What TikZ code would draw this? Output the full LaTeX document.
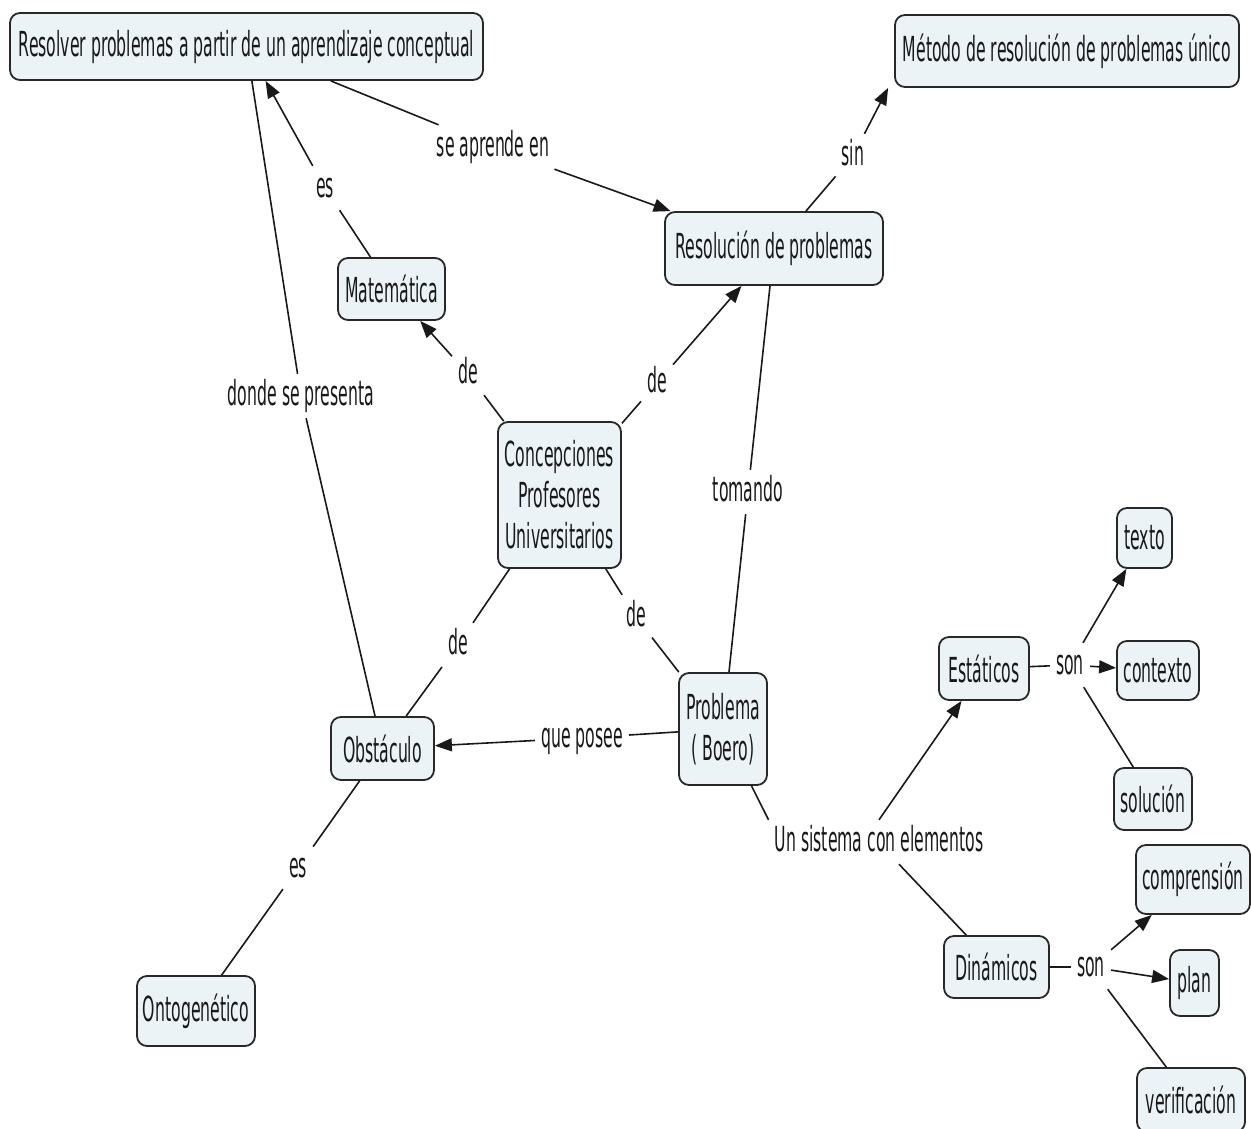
\documentclass[tikz,border=0pt]{standalone}
\usepackage{fontspec}
\setmainfont{DejaVu Sans}[FakeStretch=0.455]
\usetikzlibrary{arrows.meta}
\definecolor{boxfill}{RGB}{235,243,246}
\definecolor{boxline}{RGB}{40,40,40}
\definecolor{ink}{RGB}{25,25,25}
\begin{document}
\begin{tikzpicture}[x=1pt,y=-1pt,
  concept/.style={draw=boxline, line width=1.8pt, fill=boxfill, rounded corners=10pt,
    inner sep=0pt, align=center, text=ink, font=\fontsize{34.5}{41}\selectfont},
  phrase/.style={inner sep=6pt, text=ink, text height=25pt, text depth=7pt,
    font=\fontsize{34.5}{41}\selectfont},
  link/.style={draw=ink, line width=1.6pt},
  arr/.style={link, -{Triangle[length=17pt,width=13pt]}}
]
\fill[white] (0,0) rectangle (1251,1128);
\useasboundingbox (0,0) rectangle (1251,1128);

% concepts
\node[concept, minimum width=473, minimum height=67] (R1) at (246.5,46.5)
  {Resolver problemas a partir de un aprendizaje conceptual};
\node[concept, minimum width=344, minimum height=72] (M) at (1067,51)
  {Método de resolución de problemas único};
\node[concept, minimum width=218, minimum height=73] (RP) at (774,248.5)
  {Resolución de problemas};
\node[concept, minimum width=107, minimum height=62] (Mat) at (391.5,289) {Matemática};
\node[concept, minimum width=123, minimum height=146] (CPU) at (559.5,495)
  {Concepciones\\Profesores\\Universitarios};
\node[concept, minimum width=103, minimum height=63] (Obs) at (382.5,748.5) {Obstáculo};
\node[concept, minimum width=88, minimum height=112] (PB) at (723,729) {Problema\\( Boero)};
\node[concept, minimum width=118, minimum height=70] (Onto) at (196,1011) {Ontogenético};
\node[concept, minimum width=90, minimum height=63] (Est) at (984,668.5) {Estáticos};
\node[concept, minimum width=105, minimum height=62] (Din) at (996.5,967) {Dinámicos};
\node[concept, minimum width=55, minimum height=60] (texto) at (1144.5,538) {texto};
\node[concept, minimum width=82, minimum height=59] (contexto) at (1158,670.5) {contexto};
\node[concept, minimum width=78, minimum height=62] (sol) at (1153,799) {solución};
\node[concept, minimum width=114, minimum height=69] (comp) at (1193,879.5) {comprensión};
\node[concept, minimum width=49, minimum height=66] (plan) at (1194.5,983) {plan};
\node[concept, minimum width=108, minimum height=64] (verif) at (1191,1100) {verificación};

% linking phrases
\node[phrase] (l1) at (493,147) {se aprende en};
\node[phrase] (l2) at (325,188) {es};
\node[phrase] (l3) at (301,396) {donde se presenta};
\node[phrase] (l4) at (853,156) {sin};
\node[phrase] (l5) at (468,374) {de};
\node[phrase] (l6) at (657,383) {de};
\node[phrase] (l7) at (748,492) {tomando};
\node[phrase] (l8) at (458,645) {de};
\node[phrase] (l9) at (636,617) {de};
\node[phrase] (l10) at (582,738) {que posee};
\node[phrase] (l11) at (298,868) {es};
\node[phrase] (l12) at (879,842) {Un sistema con elementos};
\node[phrase] (l13) at (1070,665) {son};
\node[phrase] (l14) at (1091,967) {son};

% connectors
\draw[link] (R1) -- (l1);  \draw[arr] (l1) -- (RP);
\draw[link] (Mat) -- (l2); \draw[arr] (l2) -- (R1);
\draw[link] (Obs) -- (l3); \draw[link] (l3) -- (R1);
\draw[link] (RP) -- (l4);  \draw[arr] (l4) -- ([xshift=-6pt]M.south west);
\draw[link] (CPU) -- (l5); \draw[arr] (l5) -- (Mat);
\draw[link] (CPU) -- (l6); \draw[arr] (l6) -- (RP);
\draw[link] (PB) -- (l7);  \draw[link] (l7) -- (RP);
\draw[link] (CPU) -- (l8); \draw[link] (l8) -- (Obs);
\draw[link] (CPU) -- (l9); \draw[link] (l9) -- (PB);
\draw[link] (PB) -- (l10); \draw[arr] (l10) -- (Obs);
\draw[link] (Obs) -- (l11); \draw[link] (l11) -- (Onto);
\draw[link] (PB) -- (l12.north west);
\draw[arr] (l12.north) -- (Est);
\draw[link] ([xshift=20pt]l12.south) -- (Din);
\draw[link] (Est) -- (l13);
\draw[arr] (l13) -- (texto);
\draw[arr] (l13) -- (contexto);
\draw[link] (l13) -- (sol);
\draw[link] (Din) -- (l14);
\draw[arr] (l14) -- (comp);
\draw[arr] (l14) -- (plan);
\draw[link] (l14) -- (verif);
\end{tikzpicture}
\end{document}
